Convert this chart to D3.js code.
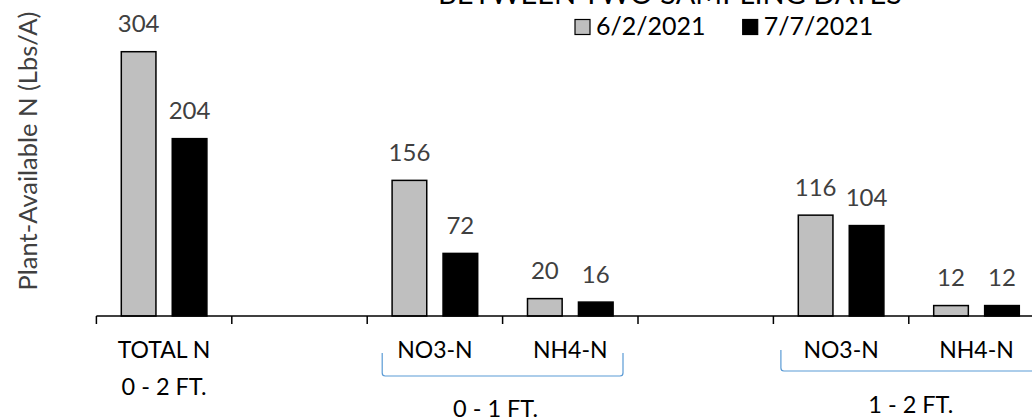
<!DOCTYPE html>
<html>
<head>
<meta charset="utf-8">
<script src="https://cdn.jsdelivr.net/npm/d3@7"></script>
<style>
  body { margin: 0; background: #ffffff; }
  svg { display: block; font-family: Lato, "Open Sans", sans-serif; }
  .valueLabel { fill: #404040; font-size: 24px; }
  .catLabel { fill: #000000; font-size: 23px; }
  .groupLabel { fill: #000000; font-size: 23.5px; }
  .legendLabel { fill: #000000; font-size: 25px; }
</style>
</head>
<body>
<script>
// chart data
var categories = ["c0", "c1", "c2", "c3", "c4", "c5", "c6"];
var categoryLabels = ["TOTAL N", "", "NO3-N", "NH4-N", "", "NO3-N", "NH4-N"];
var seriesNames = ["6/2/2021", "7/7/2021"];
var seriesJune = [304, null, 156, 20, null, 116, 12];
var seriesJuly = [204, null, 72, 16, null, 104, 12];
var depthLabels = ["0 - 2 FT.", "0 - 1 FT.", "1 - 2 FT."];

var WIDTH = 1032;
var HEIGHT = 419;
var AXIS_Y = 316;
var AXIS_LEFT = 96.4;
var BAND = 135.4;
var SERIES_COLORS = ["#bfbfbf", "#000000"];

var svg = d3.select("body").append("svg")
	.attr("width", WIDTH)
	.attr("height", HEIGHT);

var x0 = d3.scaleBand()
	.domain(categories)
	.range([AXIS_LEFT, AXIS_LEFT + BAND * categories.length])
	.padding(0);

var x1 = d3.scaleBand()
	.domain([0, 1])
	.range([-42.8, 42.8])
	.paddingInner(0.32);

var y = d3.scaleLinear()
	.domain([0, 304])
	.range([AXIS_Y, 51.7]);

//title (cut off at the top)
svg.append("text")
	.attr("x", 670)
	.attr("y", 4)
	.attr("text-anchor", "middle")
	.attr("font-size", "29px")
	.attr("fill", "#000000")
	.text("BETWEEN TWO SAMPLING DATES");

//bars
var rows = categories.map(function(c, i) {
	return {cat: c, values: [seriesJune[i], seriesJuly[i]]};
});

var groups = svg.selectAll(".group")
	.data(rows)
	.enter()
	.append("g")
	.attr("class", "group")
	.attr("transform", function(d) {
		return "translate(" + (x0(d.cat) + x0.bandwidth() / 2) + ",0)";
	});

groups.selectAll("rect")
	.data(function(d) {
		return d.values.map(function(v, s) { return {s: s, v: v}; }).filter(function(e) { return e.v != null; });
	})
	.enter()
	.append("rect")
	.attr("x", function(d) { return x1(d.s); })
	.attr("y", function(d) { return y(d.v); })
	.attr("width", x1.bandwidth())
	.attr("height", function(d) { return AXIS_Y - y(d.v); })
	.attr("fill", function(d) { return SERIES_COLORS[d.s]; })
	.attr("stroke", "#000000")
	.attr("stroke-width", 1.5);

groups.selectAll(".valueLabel")
	.data(function(d) {
		return d.values.map(function(v, s) { return {s: s, v: v}; }).filter(function(e) { return e.v != null; });
	})
	.enter()
	.append("text")
	.attr("class", "valueLabel")
	.attr("x", function(d) { return x1(d.s) + x1.bandwidth() / 2; })
	.attr("y", function(d) { return y(d.v) - 19.5; })
	.attr("text-anchor", "middle")
	.text(function(d) { return d.v; });

//x axis
var xAxis = svg.append("g");
xAxis.append("line")
	.attr("x1", AXIS_LEFT)
	.attr("x2", WIDTH)
	.attr("y1", AXIS_Y)
	.attr("y2", AXIS_Y)
	.attr("stroke", "#000000")
	.attr("stroke-width", 1.5);

xAxis.selectAll(".tick")
	.data(categories.concat(["end"]))
	.enter()
	.append("line")
	.attr("class", "tick")
	.attr("x1", function(d, i) { return AXIS_LEFT + i * x0.step(); })
	.attr("x2", function(d, i) { return AXIS_LEFT + i * x0.step(); })
	.attr("y1", AXIS_Y)
	.attr("y2", AXIS_Y + 8)
	.attr("stroke", "#000000")
	.attr("stroke-width", 1.5);

xAxis.selectAll(".catLabel")
	.data(categories)
	.enter()
	.append("text")
	.attr("class", "catLabel")
	.attr("x", function(d) { return x0(d) + x0.bandwidth() / 2; })
	.attr("y", 358)
	.attr("text-anchor", "middle")
	.text(function(d, i) { return categoryLabels[i]; });

//depth labels and brackets
svg.append("text")
	.attr("class", "groupLabel")
	.attr("x", x0("c0") + x0.bandwidth() / 2)
	.attr("y", 395)
	.attr("text-anchor", "middle")
	.text(depthLabels[0]);

var brackets = [
	{from: "c2", to: "c3", left: 15, right: -15, top: 353, bottom: 376, label: depthLabels[1], labelY: 417, shift: -7},
	{from: "c5", to: "c6", left: 7.5, right: 0, top: 350, bottom: 371, label: depthLabels[2], labelY: 413, shift: 2}
];

brackets.forEach(function(b) {
	var xl = x0(b.from) + b.left;
	var xr = x0(b.to) + x0.bandwidth() + b.right;
	var r = 3;
	svg.append("path")
		.attr("d", "M" + xl + "," + b.top + " L" + xl + "," + (b.bottom - r) +
			" Q" + xl + "," + b.bottom + " " + (xl + r) + "," + b.bottom +
			" L" + (xr - r) + "," + b.bottom +
			" Q" + xr + "," + b.bottom + " " + xr + "," + (b.bottom - r) +
			" L" + xr + "," + b.top)
		.attr("fill", "none")
		.attr("stroke", "#5b9bd5")
		.attr("stroke-width", 1.2);
	svg.append("text")
		.attr("class", "groupLabel")
		.attr("x", x0(b.to) + b.shift)
		.attr("y", b.labelY)
		.attr("text-anchor", "middle")
		.text(b.label);
});

//y axis title
svg.append("text")
	.attr("transform", "translate(37,151) rotate(-90)")
	.attr("text-anchor", "middle")
	.attr("font-size", "25.5px")
	.attr("fill", "#404040")
	.text("Plant-Available N (Lbs/A)");

//legend
var legend = svg.append("g");
var LEGEND_X = [575, 742.7];
legend.selectAll(".legendItem")
	.data(seriesNames)
	.enter()
	.append("g")
	.attr("class", "legendItem")
	.attr("transform", function(d, i) { return "translate(" + LEGEND_X[i] + ",19.5)"; })
	.each(function(d, i) {
		d3.select(this)
			.append("rect")
			.attr("width", 15)
			.attr("height", 15)
			.attr("fill", SERIES_COLORS[i])
			.attr("stroke", "#000000")
			.attr("stroke-width", 1.2);
		d3.select(this)
			.append("text")
			.attr("class", "legendLabel")
			.attr("x", 21)
			.attr("y", 15.5)
			.text(d);
	});
</script>
</body>
</html>
